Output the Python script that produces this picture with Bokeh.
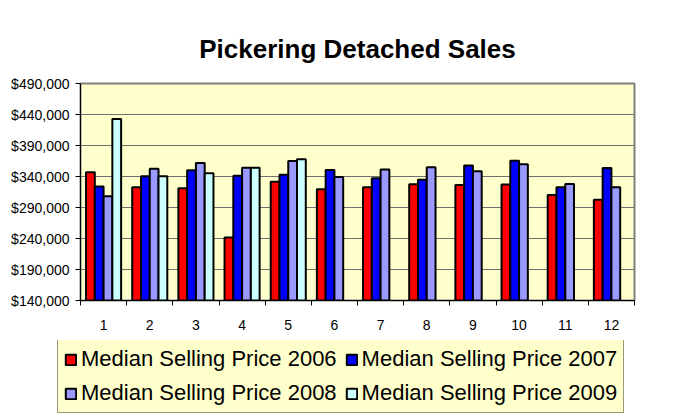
from bokeh.plotting import figure
from bokeh.models import (ColumnDataSource, FixedTicker, NumeralTickFormatter,
                          Legend, LegendItem, Range1d)
from bokeh.transform import dodge
from bokeh.embed import file_html
from bokeh.resources import INLINE

months = [1, 2, 3, 4, 5, 6, 7, 8, 9, 10, 11, 12]
price_2006 = [346800, 322500, 321000, 241800, 331700, 319300, 322500, 327400, 326300, 326900, 310200, 302600]
price_2007 = [324000, 340300, 350000, 341400, 343000, 350500, 337100, 334900, 357600, 365600, 322500, 353800]
price_2008 = [308000, 352700, 361900, 354300, 365100, 339200, 351100, 354900, 348400, 359700, 327900, 322500]
months_2009 = [1, 2, 3, 4, 5]
price_2009 = [432900, 340300, 345200, 354300, 367800]
y_ticks = [140000, 190000, 240000, 290000, 340000, 390000, 440000, 490000]
series_names = ["Median Selling Price 2006", "Median Selling Price 2007",
                "Median Selling Price 2008", "Median Selling Price 2009"]
colors = ["#FF0000", "#0000FF", "#9999FF", "#CCFFFF"]

FONT = "Liberation Sans"

p = figure(frame_width=554, frame_height=217, output_backend="svg", toolbar_location=None,
           x_range=Range1d(0.5, 12.5), y_range=Range1d(140000, 490000),
           min_border_left=80, min_border_right=35, min_border_top=83,
           min_border_bottom=40)

p.background_fill_color = "#FFFFCC"
p.border_fill_color = "white"
p.outline_line_color = "#808080"
p.outline_line_width = 2

src_a = ColumnDataSource(dict(month=months, p06=price_2006, p07=price_2007, p08=price_2008))
src_b = ColumnDataSource(dict(month=months_2009, p09=price_2009))

bw = 0.19
offsets = [-1.5 * bw, -0.5 * bw, 0.5 * bw, 1.5 * bw]
series = [("p06", src_a, offsets[0], colors[0]),
          ("p07", src_a, offsets[1], colors[1]),
          ("p08", src_a, offsets[2], colors[2]),
          ("p09", src_b, offsets[3], colors[3])]
for key, src, off, col in series:
    p.vbar(x=dodge("month", off), top=key, bottom=140000, width=bw, source=src,
           fill_color=col, line_color="black", line_width=2)

# axes
p.xaxis.ticker = FixedTicker(ticks=months, minor_ticks=[m - 0.5 for m in months] + [12.5])
p.xaxis.major_tick_out = 0
p.xaxis.major_tick_in = 0
p.xaxis.minor_tick_out = 5
p.xaxis.minor_tick_in = 0
p.xaxis.minor_tick_line_color = "black"
p.xaxis.major_label_standoff = 14

p.yaxis.ticker = FixedTicker(ticks=y_ticks)
p.yaxis.formatter = NumeralTickFormatter(format="$0,0")
p.yaxis.major_tick_out = 5
p.yaxis.major_tick_in = 0
p.yaxis.minor_tick_line_color = None
p.yaxis.major_label_standoff = 6

for ax in (p.xaxis, p.yaxis):
    ax.axis_line_color = "black"
    ax.axis_line_width = 1
    ax.major_tick_line_color = "black"
    ax.major_label_text_font = FONT
    ax.major_label_text_font_size = "14px"
    ax.major_label_text_color = "black"

p.xgrid.grid_line_color = None
p.ygrid.grid_line_color = "#707070"
p.ygrid.grid_line_width = 1

# title
p.title.text = "Pickering Detached Sales"
p.title.text_font = FONT
p.title.text_font_size = "26px"
p.title.text_font_style = "bold"
p.title.text_color = "black"
p.title.align = "center"
p.title.offset = -8
p.title.standoff = 40

# legend strip below the chart (separate root so it is not frame-aligned)
lg = figure(width=669, height=76, output_backend="svg", toolbar_location=None,
            x_axis_type=None, y_axis_type=None, x_range=Range1d(0, 1), y_range=Range1d(0, 1),
            min_border=0)
lg.outline_line_color = None
lg.grid.grid_line_color = None
lg.background_fill_color = "white"
lg.border_fill_color = "white"
swatches = []
for key, src, off, col in series:
    swatches.append(lg.vbar(x=dodge("month", off), top=key, width=bw, source=src,
                            fill_color=col, line_color="black", line_width=2, visible=False))

order = [0, 2, 1, 3]  # row-major display in a 2-column legend
legend = Legend(items=[LegendItem(label=series_names[i], renderers=[swatches[i]]) for i in order],
                location=(57, 3), ncols=2, click_policy="none",
                inactive_fill_alpha=0,
                background_fill_color="#FFFFCC", background_fill_alpha=1,
                border_line_color="#333333", border_line_width=1,
                label_text_font=FONT, label_text_font_size="22px", label_text_color="black",
                glyph_width=13, glyph_height=13, label_standoff=4,
                spacing=8, padding=6, margin=0)
lg.add_layout(legend, "center")

open("out.html", "w").write(file_html([p, lg], INLINE))
